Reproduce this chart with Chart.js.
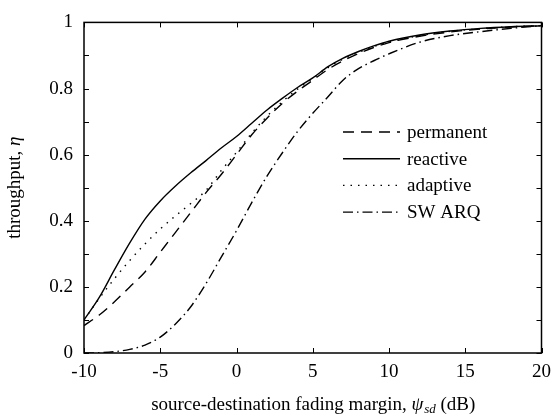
<!DOCTYPE html>
<html>
<head>
<meta charset="utf-8">
<script src="https://cdn.jsdelivr.net/npm/chart.js@4"></script>
<style>
  html, body { margin: 0; padding: 0; background: #fff; }
  #wrap { width: 559px; height: 414px; }
</style>
</head>
<body>
<div id="wrap"><canvas id="chart" width="559" height="414"></canvas></div>
<script>
// data
const margins = [-10, -9, -8, -7, -6, -5, -4, -3, -2, -1, 0, 1, 2, 3, 4, 5, 6, 7, 8, 9, 10, 12, 14, 16, 18, 20];
const permanent = [0.083, 0.115, 0.155, 0.2, 0.245, 0.305, 0.365, 0.425, 0.485, 0.54, 0.6, 0.66, 0.71, 0.755, 0.792, 0.825, 0.858, 0.884, 0.906, 0.924, 0.939, 0.958, 0.971, 0.980, 0.986, 0.99];
const reactive = [0.1, 0.168, 0.252, 0.333, 0.405, 0.46, 0.505, 0.545, 0.582, 0.62, 0.655, 0.695, 0.735, 0.77, 0.803, 0.832, 0.866, 0.892, 0.912, 0.929, 0.943, 0.962, 0.974, 0.982, 0.987, 0.99];
const adaptive = [0.1, 0.165, 0.225, 0.28, 0.33, 0.375, 0.415, 0.452, 0.492, 0.552, 0.607, 0.665, 0.716, 0.76, 0.798, 0.83, 0.863, 0.889, 0.909, 0.927, 0.941, 0.96, 0.973, 0.981, 0.987, 0.99];
const swArq = [0.0, 0.001, 0.004, 0.011, 0.024, 0.048, 0.088, 0.14, 0.21, 0.29, 0.37, 0.455, 0.535, 0.605, 0.67, 0.725, 0.775, 0.826, 0.86, 0.884, 0.905, 0.94, 0.96, 0.972, 0.982, 0.99];
const seriesNames = ["permanent", "reactive", "adaptive", "SW ARQ"];
const xTicks = [-10, -5, 0, 5, 10, 15, 20];

const serif = "'Liberation Serif', 'DejaVu Serif', serif";
const dashes = [[11, 7], [], [1.5, 6], [10, 4, 1.5, 4]];

function toPoints(ys) {
  return margins.map((x, i) => ({ x: x, y: ys[i] }));
}

// inward ticks on all four sides + legend + axis titles
const frame = {
  id: "frame",
  afterDraw(chart) {
    const ctx = chart.ctx;
    const a = chart.chartArea;
    const xs = chart.scales.x;
    const ys = chart.scales.y;
    ctx.save();
    ctx.strokeStyle = "#000";
    ctx.lineWidth = 1.5;
    ctx.strokeRect(a.left, a.top, a.right - a.left, a.bottom - a.top);
    ctx.lineWidth = 1;
    ctx.beginPath();
    xs.ticks.forEach((t) => {
      const px = Math.round(xs.getPixelForValue(t.value)) + 0.5;
      ctx.moveTo(px, a.bottom); ctx.lineTo(px, a.bottom - 5);
      ctx.moveTo(px, a.top); ctx.lineTo(px, a.top + 5);
    });
    ys.ticks.forEach((t) => {
      const py = Math.round(ys.getPixelForValue(t.value)) + 0.5;
      ctx.moveTo(a.left, py); ctx.lineTo(a.left + 5, py);
      ctx.moveTo(a.right, py); ctx.lineTo(a.right - 5, py);
    });
    ctx.stroke();

    // legend
    ctx.font = "19px " + serif;
    ctx.fillStyle = "#000";
    ctx.textBaseline = "middle";
    chart.data.datasets.forEach((ds, i) => {
      const y = 132 + i * 26.7;
      ctx.setLineDash(ds.borderDash || []);
      ctx.lineWidth = 1.4;
      ctx.beginPath();
      ctx.moveTo(343, y); ctx.lineTo(400, y);
      ctx.stroke();
      ctx.setLineDash([]);
      ctx.fillText(ds.label, 407, y + 1);
    });

    // x axis title with subscript
    ctx.textBaseline = "alphabetic";
    const base = 410;
    const part1 = "source-destination fading margin, ";
    const psi = "\u03C8";
    const sub = "sd";
    const part2 = " (dB)";
    const f = "19px " + serif;
    const fi = "italic 19px " + serif;
    const fs = "italic 13px " + serif;
    ctx.font = f; const w1 = ctx.measureText(part1).width; const w4 = ctx.measureText(part2).width;
    ctx.font = fi; const w2 = ctx.measureText(psi).width;
    ctx.font = fs; const w3 = ctx.measureText(sub).width;
    let x0 = (a.left + a.right) / 2 - (w1 + w2 + w3 + w4) / 2;
    ctx.font = f; ctx.fillText(part1, x0, base); x0 += w1;
    ctx.font = fi; ctx.fillText(psi, x0, base); x0 += w2 + 1;
    ctx.font = fs; ctx.fillText(sub, x0, base + 3); x0 += w3;
    ctx.font = f; ctx.fillText(part2, x0, base);

    // y axis title
    ctx.save();
    ctx.translate(20, (a.top + a.bottom) / 2);
    ctx.rotate(-Math.PI / 2);
    const y1 = "throughput, ";
    const eta = "\u03B7";
    ctx.font = f; const v1 = ctx.measureText(y1).width;
    ctx.font = fi; const v2 = ctx.measureText(eta).width;
    let t0 = -(v1 + v2) / 2;
    ctx.font = f; ctx.fillText(y1, t0, 0);
    ctx.font = fi; ctx.fillText(eta, t0 + v1, 0);
    ctx.restore();
    ctx.restore();
  }
};

const seriesData = [permanent, reactive, adaptive, swArq];

new Chart(document.getElementById("chart"), {
  type: "line",
  data: {
    datasets: seriesData.map((ys, i) => ({
      label: seriesNames[i],
      data: toPoints(ys),
      borderColor: "#000",
      borderWidth: 1.4,
      borderDash: dashes[i],
      pointRadius: 0,
      fill: false,
      cubicInterpolationMode: "monotone",
    })),
  },
  options: {
    responsive: false,
    animation: false,
    events: [],
    layout: { padding: { top: 15, right: 10, left: 0, bottom: 0 } },
    plugins: {
      legend: { display: false },
      tooltip: { enabled: false },
    },
    scales: {
      x: {
        type: "linear",
        min: -10,
        max: 20,
        afterBuildTicks(scale) {
          scale.ticks = xTicks.map((v) => ({ value: v }));
        },
        afterFit(scale) { scale.height = 61; },
        grid: { display: false, drawTicks: false },
        border: { display: false },
        ticks: {
          color: "#000",
          font: { family: serif, size: 19 },
          padding: 8,
          maxRotation: 0,
          callback: (v) => String(v),
        },
      },
      y: {
        min: 0,
        max: 1,
        afterFit(scale) { scale.width = 84; },
        grid: { display: false, drawTicks: false },
        border: { display: false },
        ticks: {
          stepSize: 0.1,
          color: "#000",
          font: { family: serif, size: 19 },
          padding: 11,
          callback: (v) => {
            const r = Math.round(v * 10);
            return r % 2 === 0 ? String(r / 10) : "";
          },
        },
      },
    },
  },
  plugins: [frame],
});
</script>
</body>
</html>
